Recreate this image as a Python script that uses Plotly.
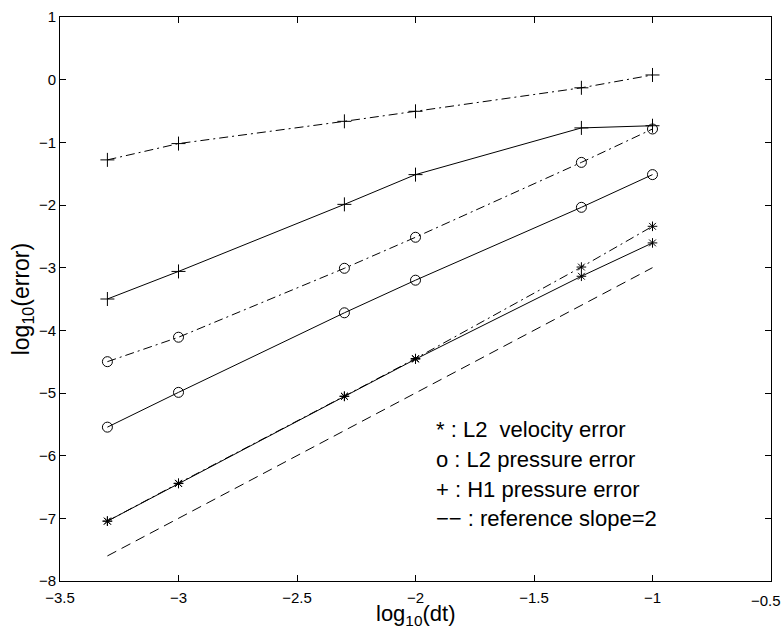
import plotly.graph_objects as go

# ---- data ----
log_dt = [-3.3, -3.0, -2.3, -2.0, -1.3, -1.0]
h1_press_dashdot = [-1.28, -1.02, -0.665, -0.505, -0.13, 0.075]
h1_press_solid = [-3.50, -3.06, -1.99, -1.515, -0.77, -0.735]
l2_press_dashdot = [-4.50, -4.11, -3.01, -2.515, -1.32, -0.787]
l2_press_solid = [-5.545, -4.99, -3.72, -3.20, -2.037, -1.515]
l2_vel_dashdot = [-7.045, -6.44, -5.05, -4.45, -2.99, -2.34]
l2_vel_solid = [-7.045, -6.445, -5.055, -4.46, -3.137, -2.605]
ref_x = [-3.3, -1.0]
ref_y = [-7.6, -3.0]

x_tick_vals = [-3.5, -3.0, -2.5, -2.0, -1.5, -1.0]
x_last_tick = -0.5
x_last_label = "\u22120.5"

legend_lines = ["* : L2  velocity error", "o : L2 pressure error",
                "+ : H1 pressure error", "\u2212\u2212 : reference slope=2"]
legend_y = [-5.58, -6.06, -6.54, -7.0]

FONT = "Liberation Sans, Arial, Helvetica, sans-serif"
DASHDOT = "9px,4px,2px,4px"
DASHED = "10px,6px"

fig = go.Figure()

def add(y, dash, symbol, size):
    fig.add_trace(go.Scatter(
        x=log_dt, y=y, mode="lines+markers",
        line=dict(color="black", width=1, dash=dash),
        marker=dict(symbol=symbol, size=size, color="black",
                    line=dict(color="black", width=1)),
        showlegend=False, hoverinfo="skip"))

add(h1_press_dashdot, DASHDOT, "cross-thin-open", 10)
add(h1_press_solid, "solid", "cross-thin-open", 10)
add(l2_press_dashdot, DASHDOT, "circle-open", 10)
add(l2_press_solid, "solid", "circle-open", 10)
add(l2_vel_dashdot, DASHDOT, "asterisk-open", 8)
add(l2_vel_solid, "solid", "asterisk-open", 8)

fig.add_trace(go.Scatter(
    x=ref_x, y=ref_y, mode="lines",
    line=dict(color="black", width=1, dash=DASHED),
    showlegend=False, hoverinfo="skip"))

for txt, yy in zip(legend_lines, legend_y):
    fig.add_annotation(x=-1.92, y=yy, xref="x", yref="y", text=txt,
                       showarrow=False, xanchor="left", yanchor="middle",
                       font=dict(family=FONT, size=22, color="black"))

# last x tick label, kept inside the page like the reference
fig.add_annotation(x=x_last_tick, y=0, xref="x", yref="paper",
                   text=x_last_label, showarrow=False,
                   xanchor="center", yanchor="middle", xshift=-5, yshift=-19,
                   font=dict(family=FONT, size=15, color="black"))

# axis titles
fig.add_annotation(x=0.5, y=-0.061, xref="paper", yref="paper",
                   text="log<sub>10</sub>(dt)", showarrow=False,
                   xanchor="center", yanchor="middle",
                   font=dict(family=FONT, size=22, color="black"))
fig.add_annotation(x=-0.053, y=0.5, xref="paper", yref="paper",
                   text="log<sub>10</sub>(error)", showarrow=False,
                   textangle=-90, xanchor="center", yanchor="middle",
                   font=dict(family=FONT, size=23, color="black"))

axis_common = dict(showgrid=False, zeroline=False, showline=True,
                   linecolor="black", linewidth=1, mirror="ticks",
                   ticks="inside", ticklen=6, tickcolor="black", tickwidth=1,
                   automargin=False,
                   tickfont=dict(family=FONT, size=15, color="black"))

fig.update_xaxes(range=[-3.5, -0.5], tickvals=x_tick_vals,
                 ticklabelstandoff=3, **axis_common)
fig.update_yaxes(range=[-8, 1], dtick=1, tick0=-8, **axis_common)

fig.update_layout(template="none", width=783, height=630,
                  margin=dict(l=60, r=12, t=17, b=49),
                  plot_bgcolor="white", paper_bgcolor="white",
                  font=dict(family=FONT, color="black"))

fig.write_html("out.html", config={"displayModeBar": False},
               post_script="document.body.style.margin='0';"
                           "document.body.style.padding='0';")
